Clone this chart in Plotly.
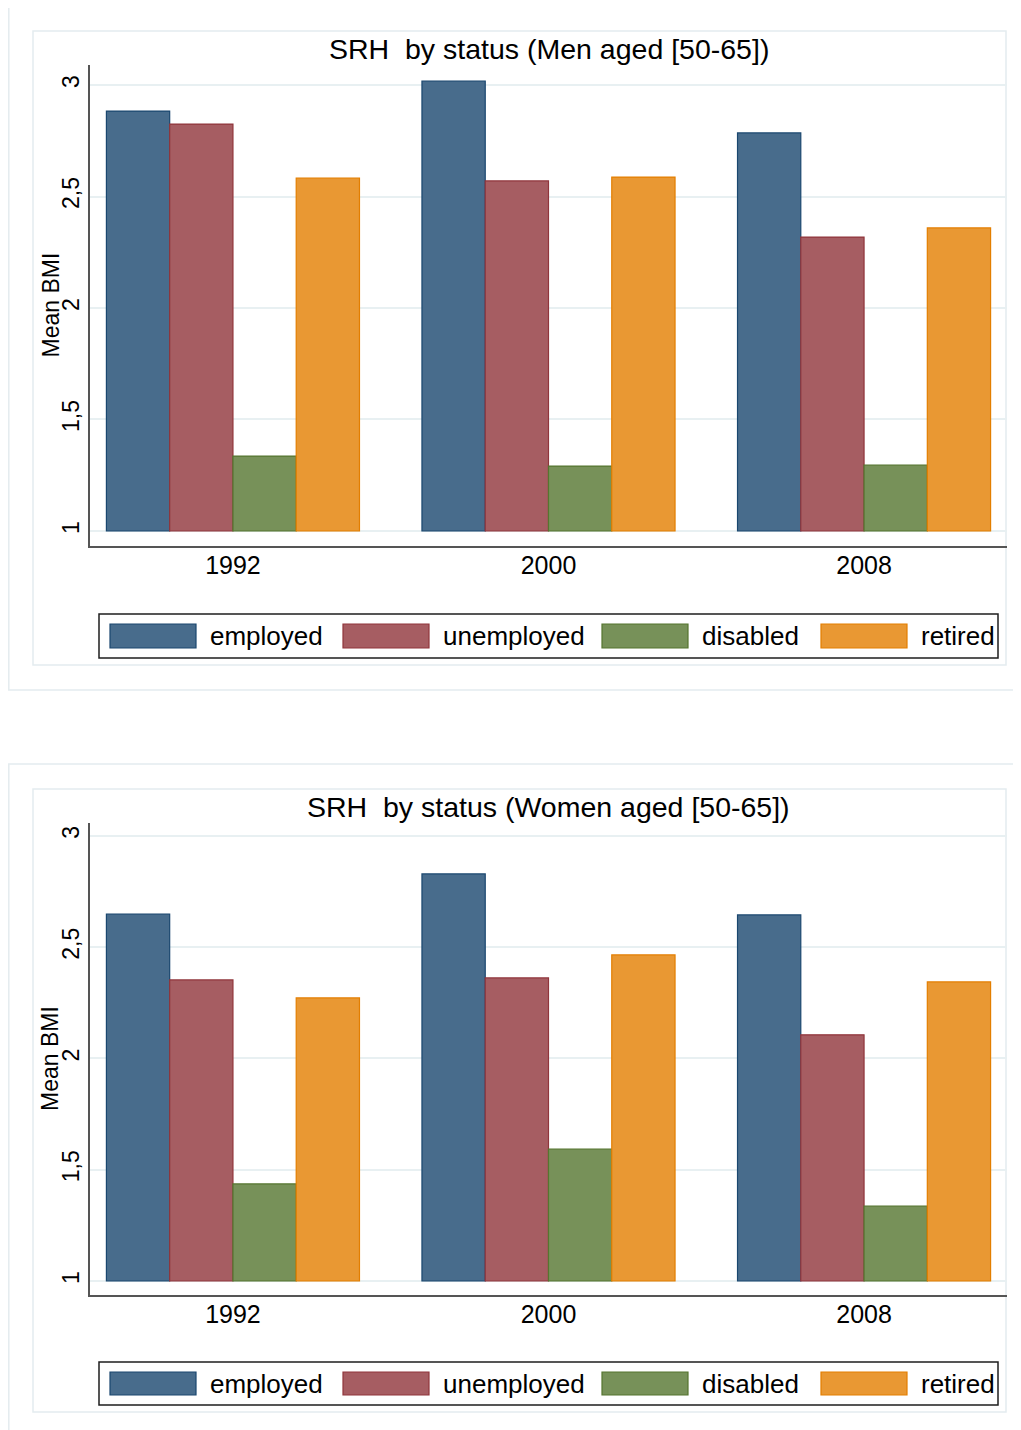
import plotly.graph_objects as go

# ---------------- data ----------------
years = ["1992", "2000", "2008"]
statuses = ["employed", "unemployed", "disabled", "retired"]

men_employed = [2.883, 3.018, 2.785]
men_unemployed = [2.825, 2.570, 2.318]
men_disabled = [1.336, 1.291, 1.296]
men_retired = [2.583, 2.587, 2.359]

women_employed = [2.649, 2.829, 2.645]
women_unemployed = [2.353, 2.362, 2.106]
women_disabled = [1.436, 1.593, 1.337]
women_retired = [2.272, 2.465, 2.344]

y_tickvals = [1, 1.5, 2, 2.5, 3]
y_ticktext = ["1", "1,5", "2", "2,5", "3"]

titles = ["SRH  by status (Men aged [50-65])", "SRH  by status (Women aged [50-65])"]
y_title = "Mean BMI"
baseline = 1

# ---------------- styling ----------------
OFF = 8  # page body margin
W, H = 1021 - OFF, 1430 - OFF
FONT = "Liberation Sans, Arial, sans-serif"
fills = ["rgb(72,108,140)", "rgb(166,93,98)", "rgb(119,145,89)", "rgb(233,152,51)"]
lines = ["rgb(26,71,111)", "rgb(144,53,59)", "rgb(85,117,47)", "rgb(227,126,0)"]
grid_c = "rgb(232,240,242)"
frame_c = "rgb(228,236,239)"


def px(x):
    return (x - OFF) / W


def py(y):
    return 1 - (y - OFF) / H


fig = go.Figure()

panels = [
    ([men_employed, men_unemployed, men_disabled, men_retired], "x", "y"),
    ([women_employed, women_unemployed, women_disabled, women_retired], "x2", "y2"),
]
for series, xa, ya in panels:
    for i, (name, vals) in enumerate(zip(statuses, series)):
        fig.add_trace(go.Bar(
            x=years, y=[v - baseline for v in vals], base=baseline, name=name,
            marker=dict(color=fills[i], line=dict(color=lines[i], width=1.2)),
            xaxis=xa, yaxis=ya, showlegend=False,
            customdata=vals, hovertemplate="%{x}: %{customdata}<extra>" + name + "</extra>",
        ))

# panel geometry (pixels)
geo = [
    dict(top=65, bottom=546, ymin=0.9327, ymax=3.0897, outer=(7, 690), inner=(31, 665),
         title_y=49, leg=(614, 658)),
    dict(top=823, bottom=1295, ymin=0.937, ymax=3.058, outer=(764, 1440), inner=(789, 1412),
         title_y=807, leg=(1362, 1405)),
]

layout = dict(
    width=W, height=H, margin=dict(l=0, r=0, t=0, b=0),
    paper_bgcolor="white", plot_bgcolor="white",
    barmode="group", bargap=0.198, bargroupgap=0,
    font=dict(family=FONT, color="black"),
    showlegend=False,
)
shapes = []
annotations = []
leg_swatch_x = [110, 343, 602, 821]
leg_text_x = [208, 441, 700, 919]

for k, g in enumerate(geo):
    sfx = "" if k == 0 else str(k + 1)
    layout["xaxis" + sfx] = dict(
        domain=[px(90), px(1007)], anchor="y" + sfx, type="category",
        range=[-0.453, 2.453], showgrid=False, zeroline=False,
        showline=True, linecolor="rgb(85,85,85)", linewidth=1.5,
        ticks="", tickfont=dict(size=25), ticklabelstandoff=-4, fixedrange=True,
    )
    layout["yaxis" + sfx] = dict(
        domain=[py(g["bottom"]), py(g["top"])], anchor="x" + sfx,
        range=[g["ymin"], g["ymax"]], tickvals=y_tickvals, ticktext=y_ticktext,
        tickangle=-90, tickfont=dict(size=23), ticks="",
        showgrid=True, gridcolor=grid_c, gridwidth=1.5, zeroline=False,
        showline=True, linecolor="rgb(85,85,85)", linewidth=1.5, fixedrange=True,
    )
    # y-axis title
    annotations.append(dict(text=y_title, xref="paper", yref="paper",
                            x=px(50), y=py((g["top"] + g["bottom"]) / 2),
                            xanchor="center", yanchor="middle", textangle=-90,
                            showarrow=False, font=dict(size=23)))
    # outer frame
    shapes.append(dict(type="rect", xref="paper", yref="paper",
                       x0=px(8.8), x1=px(1030), y0=py(g["outer"][1]), y1=py(g["outer"][0]),
                       line=dict(color=frame_c, width=1.5), fillcolor="rgba(0,0,0,0)", layer="below"))
    # inner frame
    shapes.append(dict(type="rect", xref="paper", yref="paper",
                       x0=px(33), x1=px(1006), y0=py(g["inner"][1]), y1=py(g["inner"][0]),
                       line=dict(color=frame_c, width=1.5), fillcolor="rgba(0,0,0,0)", layer="below"))
    # legend box
    lt, lb = g["leg"]
    shapes.append(dict(type="rect", xref="paper", yref="paper",
                       x0=px(99), x1=px(998), y0=py(lb), y1=py(lt),
                       line=dict(color="rgb(30,30,30)", width=1.5), fillcolor="white"))
    for i, name in enumerate(statuses):
        shapes.append(dict(type="rect", xref="paper", yref="paper",
                           x0=px(leg_swatch_x[i]), x1=px(leg_swatch_x[i] + 86),
                           y0=py(lb - 10), y1=py(lt + 10),
                           line=dict(color=lines[i], width=1.2), fillcolor=fills[i]))
        annotations.append(dict(text=name, xref="paper", yref="paper",
                                x=px(leg_text_x[i]), y=py((lt + lb) / 2),
                                xanchor="left", yanchor="middle", showarrow=False,
                                font=dict(size=26)))
    annotations.append(dict(text=titles[k], xref="paper", yref="paper",
                            x=px(548.5), y=py(g["title_y"]), xanchor="center", yanchor="middle",
                            showarrow=False, font=dict(size=28.5)))

layout["shapes"] = shapes
layout["annotations"] = annotations
fig.update_layout(**layout)

fig.write_html("out.html")
